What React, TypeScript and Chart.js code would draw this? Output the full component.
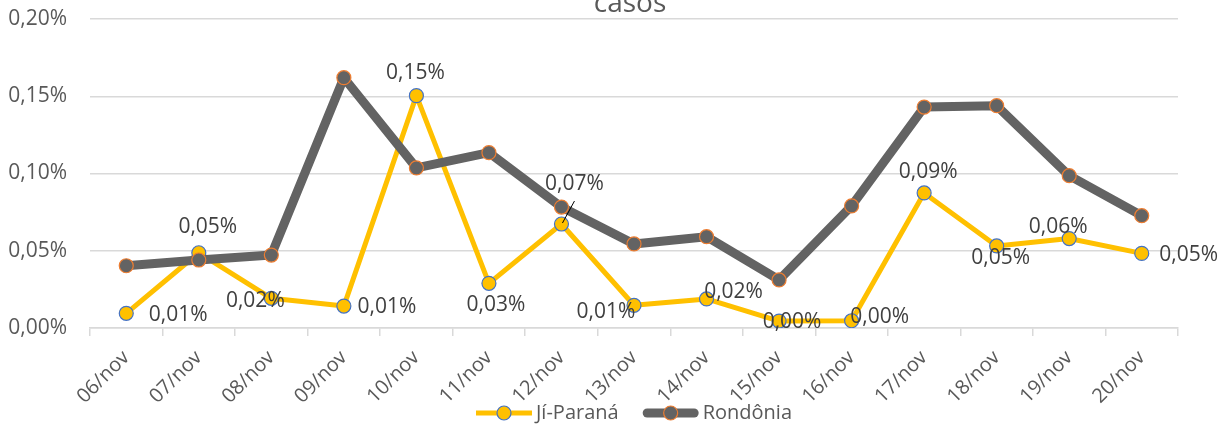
import React, { useEffect, useRef } from "react";
import { Chart, registerables } from "chart.js";

Chart.register(...registerables);

// ---- data ----
const categories = [
  "06/nov", "07/nov", "08/nov", "09/nov", "10/nov", "11/nov", "12/nov", "13/nov",
  "14/nov", "15/nov", "16/nov", "17/nov", "18/nov", "19/nov", "20/nov",
];
const jiParana = [
  0.0095, 0.0487, 0.0192, 0.0142, 0.1504, 0.0289, 0.0673, 0.0147,
  0.0188, 0.0045, 0.0047, 0.0874, 0.0531, 0.0579, 0.0483,
];
const rondonia = [
  0.0403, 0.044, 0.0472, 0.162, 0.1036, 0.1135, 0.0783, 0.0544,
  0.0591, 0.0311, 0.079, 0.143, 0.1439, 0.0986, 0.0727,
];
const yTicks = [0, 0.05, 0.1, 0.15, 0.2];
const seriesNames = ["Jí-Paraná", "Rondônia"];
const chartTitle = "casos";

// placement of Jí-Paraná data labels relative to their point (px)
const labelOffsets: [number, number][] = [
  [52, 2], [9, -26], [-16, 3], [43, 1], [-1, -23], [7, 22], [13, -40], [-28, 7],
  [27, -7], [13, 1], [28, -4], [4, -21], [4, 12], [-11, -12], [47, 2],
];
const leaderIndex = 6;

const FONT = "'Open Sans', 'Noto Sans', sans-serif";
const TEXT = "#595959";
const GRID = "#D9D9D9";
const YELLOW = "#FFC000";
const BLUE = "#4472C4";
const GRAY = "#636363";
const ORANGE = "#ED7D31";

const fmt = (v: number) => v.toFixed(2).replace(".", ",") + "%";

const seriesStyles = [
  { line: YELLOW, width: 5, cap: "butt", fill: YELLOW, border: BLUE },
  { line: GRAY, width: 9, cap: "round", fill: GRAY, border: ORANGE },
];

const titlePlugin = {
  id: "topTitle",
  afterDraw(chart: any) {
    const { ctx, chartArea } = chart;
    ctx.save();
    ctx.font = `28px ${FONT}`;
    ctx.fillStyle = TEXT;
    ctx.textAlign = "center";
    ctx.textBaseline = "alphabetic";
    ctx.fillText(chartTitle, (chartArea.left + chartArea.right) / 2 - 4, 12);
    ctx.restore();
  },
};

const dataLabelPlugin = {
  id: "dataLabels",
  afterDatasetsDraw(chart: any) {
    const { ctx } = chart;
    const meta = chart.getDatasetMeta(0);
    ctx.save();
    ctx.font = `21px ${FONT}`;
    ctx.fillStyle = "#404040";
    ctx.textAlign = "center";
    ctx.textBaseline = "middle";
    meta.data.forEach((pt: any, i: number) => {
      const [dx, dy] = labelOffsets[i];
      const lx = pt.x + dx;
      const ly = pt.y + dy;
      if (i === leaderIndex) {
        ctx.strokeStyle = "#000000";
        ctx.lineWidth = 1;
        ctx.beginPath();
        ctx.moveTo(lx, ly + 17);
        ctx.lineTo(pt.x + 1, pt.y - 1);
        ctx.stroke();
      }
      ctx.fillText(fmt(jiParana[i]), lx, ly);
    });
    ctx.restore();
  },
};

const legendPlugin = {
  id: "customLegend",
  afterDraw(chart: any) {
    const { ctx, chartArea } = chart;
    ctx.save();
    ctx.font = `20px ${FONT}`;
    const y = chart.height - 13;
    const symW = 56;
    const gapT = 4;
    const gapItems = 24;
    const widths = seriesNames.map((n) => ctx.measureText(n).width);
    const total = symW * 2 + gapT * 2 + widths[0] + widths[1] + gapItems;
    let x = (chartArea.left + chartArea.right) / 2 - total / 2;
    seriesNames.forEach((name, i) => {
      const st = seriesStyles[i];
      const pad = st.cap === "round" ? st.width / 2 : 0;
      ctx.strokeStyle = st.line;
      ctx.lineWidth = st.width;
      ctx.lineCap = st.cap;
      ctx.beginPath();
      ctx.moveTo(x + pad, y);
      ctx.lineTo(x + symW - pad, y);
      ctx.stroke();
      ctx.beginPath();
      ctx.arc(x + symW / 2, y, 7, 0, Math.PI * 2);
      ctx.fillStyle = st.fill;
      ctx.fill();
      ctx.lineWidth = 1.2;
      ctx.strokeStyle = st.border;
      ctx.stroke();
      ctx.fillStyle = TEXT;
      ctx.textAlign = "left";
      ctx.textBaseline = "middle";
      ctx.fillText(name, x + symW + gapT, y);
      x += symW + gapT + widths[i] + gapItems;
    });
    ctx.restore();
  },
};

export default function App() {
  const ref = useRef<HTMLCanvasElement | null>(null);

  useEffect(() => {
    if (!ref.current) return;
    const chart = new Chart(ref.current, {
      type: "line",
      data: {
        labels: categories,
        datasets: [
          {
            label: seriesNames[0],
            data: jiParana,
            borderColor: YELLOW,
            backgroundColor: YELLOW,
            borderWidth: 5,
            borderJoinStyle: "round",
            pointRadius: 7,
            pointHoverRadius: 7,
            pointBackgroundColor: YELLOW,
            pointBorderColor: BLUE,
            pointBorderWidth: 1.2,
            tension: 0,
            order: 1,
          },
          {
            label: seriesNames[1],
            data: rondonia,
            borderColor: GRAY,
            backgroundColor: GRAY,
            borderWidth: 9,
            borderJoinStyle: "round",
            borderCapStyle: "round",
            pointRadius: 7,
            pointHoverRadius: 7,
            pointBackgroundColor: GRAY,
            pointBorderColor: ORANGE,
            pointBorderWidth: 1.2,
            tension: 0,
            order: 0,
          },
        ],
      },
      options: {
        responsive: false,
        animation: false,
        devicePixelRatio: 1,
        layout: { padding: { left: 0, right: 51, top: 19, bottom: 8 } },
        plugins: {
          legend: { display: false },
          title: { display: false },
          tooltip: { enabled: false },
        },
        scales: {
          x: {
            offset: true,
            grid: {
              display: true,
              drawOnChartArea: false,
              drawTicks: true,
              tickLength: 8,
              color: GRID,
              lineWidth: 1.5,
              offset: true,
            },
            border: { display: true, color: GRID, width: 1.5 },
            ticks: {
              autoSkip: false,
              maxRotation: 45,
              minRotation: 45,
              color: TEXT,
              padding: 10,
              font: { family: FONT, size: 20 },
            },
            afterFit: (s: any) => {
              s.height = 90;
              s.paddingLeft = 0;
              s.paddingRight = 0;
            },
          },
          y: {
            min: 0,
            max: 0.2,
            afterBuildTicks: (s: any) => {
              s.ticks = yTicks.map((v) => ({ value: v }));
            },
            grid: { color: GRID, lineWidth: 1.5, drawTicks: false },
            border: { display: false },
            ticks: {
              padding: 23,
              color: TEXT,
              font: { family: FONT, size: 21 },
              callback: (v: any) => fmt(Number(v)),
            },
            afterFit: (s: any) => {
              s.width = 90;
              s.paddingTop = 0;
              s.paddingBottom = 0;
            },
          },
        },
      },
      plugins: [titlePlugin, dataLabelPlugin, legendPlugin],
    } as any);
    return () => chart.destroy();
  }, []);

  return (
    <div style={{ position: "absolute", left: 0, top: 0, width: 1229, height: 426, background: "#fff" }}>
      <canvas ref={ref} width={1229} height={426} style={{ display: "block" }} />
    </div>
  );
}
